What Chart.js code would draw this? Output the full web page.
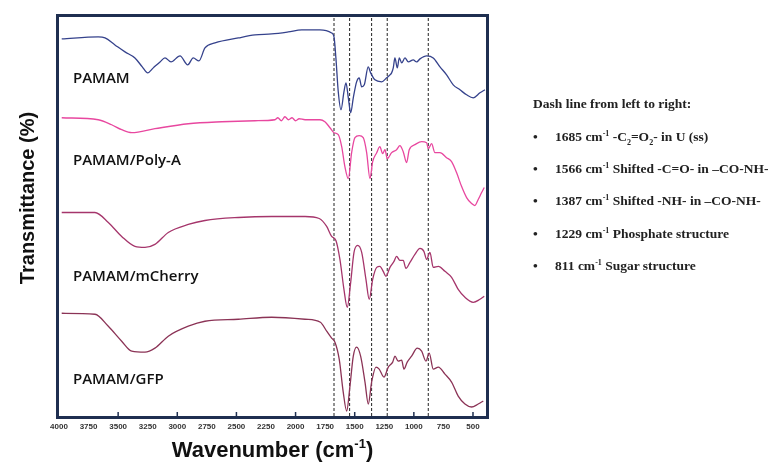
<!DOCTYPE html>
<html>
<head>
<meta charset="utf-8">
<script src="https://cdn.jsdelivr.net/npm/chart.js@4.4.0/dist/chart.umd.min.js"></script>
<style>
    html, body { margin: 0; padding: 0; background: #fff; }
    #wrap { position: relative; width: 769px; height: 463px; }
    .note { position: absolute; font-family: "Liberation Serif", "Times New Roman", serif; font-weight: bold; font-size: 13.5px; color: #222; white-space: nowrap; line-height: 16px; }
    .note sup, .note sub { font-size: 8px; line-height: 0; }
    .bullet { position: absolute; left: 533px; }
    .item { left: 555px; }
</style>
</head>
<body>
<div id="wrap">
    <canvas id="ftir" width="769" height="463"></canvas>
    <div class="note" style="left:533px; top:96px;">Dash line from left to right:</div>
    <div class="note bullet" style="top:129px;">•</div>
    <div class="note item" style="top:129px;">1685 cm<sup>-1</sup> -C<sub>2</sub>=O<sub>2</sub>- in U (ss)</div>
    <div class="note bullet" style="top:161px;">•</div>
    <div class="note item" style="top:161px;">1566 cm<sup>-1</sup> Shifted -C=O- in –CO-NH-</div>
    <div class="note bullet" style="top:193px;">•</div>
    <div class="note item" style="top:193px;">1387 cm<sup>-1</sup> Shifted -NH- in –CO-NH-</div>
    <div class="note bullet" style="top:226px;">•</div>
    <div class="note item" style="top:226px;">1229 cm<sup>-1</sup> Phosphate structure</div>
    <div class="note bullet" style="top:258px;">•</div>
    <div class="note item" style="top:258px;">811 cm<sup>-1</sup> Sugar structure</div>
</div>
<script>
// spectra (wavenumber, offset transmittance in arbitrary units)
var wnPamam = [3977, 3668, 3611, 3527, 3442, 3358, 3296, 3250, 3203, 3146, 3104, 3053, 2977, 2912, 2865, 2817, 2766, 2681, 2484, 2343, 2202, 2062, 1948, 1794,
    1695, 1675, 1659, 1639, 1616, 1591, 1574, 1554, 1534, 1512, 1484, 1462, 1441, 1419, 1386, 1365, 1329, 1272, 1230, 1202, 1188, 1174, 1160, 1140, 1123,
    1103, 1075, 1047, 1005, 976, 948, 892, 836, 779, 723, 667, 610, 554, 498, 441, 399];
var tPamam = [378, 380, 379, 372, 365, 359, 350, 344, 349, 355, 359, 355, 361, 352, 359, 356, 369, 374, 379, 382, 383, 385, 387, 387,
    384, 380, 359, 325, 307, 325, 334, 319, 304, 319, 335, 339, 330, 332, 350, 344, 337, 335, 339, 342, 344, 349, 359, 349, 359,
    354, 359, 355, 357, 355, 358, 361, 359, 350, 342, 332, 327, 322, 319, 324, 327];

var wnPolyA = [3977, 3668, 3555, 3470, 3385, 3189, 2907, 2625, 2343, 2174, 2150, 2120, 2090, 2060, 2030, 2000, 1970, 1920, 1794, 1752, 1709, 1675,
    1639, 1610, 1583, 1554, 1526, 1498, 1462, 1428, 1399, 1371, 1348, 1314, 1287, 1264, 1244, 1225, 1188, 1146, 1118, 1090, 1061, 1039, 991,
    934, 892, 878, 850, 822, 779, 723, 681, 639, 596, 554, 512, 484, 456, 427, 405];
var tPolyA = [299, 297, 292, 287, 284, 288, 293, 295, 296, 297, 299, 296, 300, 297, 299, 296, 298, 297, 297, 295, 289, 284,
    282, 270, 250, 238, 264, 279, 281, 279, 264, 238, 255, 264, 270, 263, 267, 258, 264, 267, 271, 265, 254, 267, 272,
    275, 274, 268, 273, 264, 264, 259, 255, 244, 230, 219, 213, 211, 217, 224, 229];

var wnCherry = [3977, 3696, 3583, 3470, 3358, 3273, 3189, 3076, 2907, 2766, 2484, 2202, 1920, 1800, 1737, 1695, 1659, 1625, 1591, 1563, 1534,
    1506, 1475, 1441, 1405, 1377, 1348, 1314, 1287, 1259, 1236, 1202, 1168, 1146, 1118, 1090, 1067, 1033, 991, 948, 915, 892, 864, 836,
    793, 737, 681, 625, 568, 498, 441, 405];
var tCherry = [204, 204, 194, 180, 170, 169, 172, 184, 192, 196, 199, 200, 200, 198, 190, 180, 176, 157, 127, 109, 134,
    164, 171, 164, 137, 117, 137, 149, 150, 145, 140, 149, 155, 160, 156, 156, 148, 154, 162, 168, 165, 157, 164, 149,
    150, 145, 139, 127, 119, 114, 117, 120];

var wnGfp = [3977, 3696, 3583, 3470, 3385, 3273, 3189, 3076, 2907, 2766, 2484, 2202, 1920, 1790, 1737, 1695, 1667, 1631, 1597, 1568, 1540,
    1512, 1484, 1450, 1413, 1385, 1357, 1320, 1293, 1253, 1216, 1179, 1160, 1132, 1103, 1084, 1056, 1019, 971, 934, 898, 870, 836,
    793, 737, 681, 625, 568, 512, 456, 413];
var tGfp = [103, 102, 90, 75, 65, 64, 68, 80, 90, 95, 97, 99, 97, 94, 85, 78, 74, 57, 24, 5, 30,
    60, 69, 60, 34, 12, 34, 49, 47, 39, 49, 54, 60, 55, 56, 47, 54, 60, 68, 65, 55, 63, 47,
    49, 42, 34, 20, 12, 9, 12, 15];

var curveNames = ["PAMAM", "PAMAM/Poly-A", "PAMAM/mCherry", "PAMAM/GFP"];
var curveColors = ["#35428c", "#e8479f", "#a5356b", "#8b3356"];
var labelWn = 3882;
var labelT = [338, 256, 140, 36];

var dashWn = [1675, 1543, 1357, 1225, 878];
var tickValues = [4000, 3750, 3500, 3250, 3000, 2750, 2500, 2250, 2000, 1750, 1500, 1250, 1000, 750, 500];
var majorTicks = [3500, 3000, 2500, 2000, 1500, 1000, 500];

function toPoints(xs, ys) {
    return xs.map(function (x, i) { return { x: x, y: ys[i] }; });
}

var series = [[wnPamam, tPamam], [wnPolyA, tPolyA], [wnCherry, tCherry], [wnGfp, tGfp]];
var datasets = [];
for (var i = 0; i < series.length; i++) {
    datasets.push({
        label: curveNames[i],
        data: toPoints(series[i][0], series[i][1]),
        borderColor: curveColors[i],
        borderWidth: 1.3,
        pointRadius: 0,
        cubicInterpolationMode: "monotone",
        fill: false
    });
}
// dashed marker lines, full height
dashWn.forEach(function (w) {
    datasets.push({
        label: "dash " + w,
        data: [{ x: w, y: 0 }, { x: w, y: 400 }],
        borderColor: "#222",
        borderWidth: 1,
        borderDash: [3, 2],
        pointRadius: 0,
        fill: false
    });
});

var decor = {
    id: "decor",
    afterDatasetsDraw: function (chart) {
        var ctx = chart.ctx, a = chart.chartArea;
        var xs = chart.scales.x, ys = chart.scales.y;
        ctx.save();
        ctx.strokeStyle = "#1f2f50";
        ctx.lineWidth = 1.5;
        majorTicks.forEach(function (v) {
            var px = xs.getPixelForValue(v);
            ctx.beginPath();
            ctx.moveTo(px, a.bottom);
            ctx.lineTo(px, a.bottom - 4);
            ctx.stroke();
        });
        ctx.lineWidth = 3;
        ctx.strokeRect(a.left - 1.5, a.top - 1.5, a.width + 3, a.height + 3);

        ctx.fillStyle = "#111";
        ctx.font = '600 15px "Open Sans"';
        ctx.textBaseline = "middle";
        ctx.textAlign = "left";
        for (var k = 0; k < curveNames.length; k++) {
            ctx.fillText(curveNames[k], xs.getPixelForValue(labelWn), ys.getPixelForValue(labelT[k]));
        }

        // x title with a small superscript
        var big = 'bold 22px "Liberation Sans"', small = 'bold 13px "Liberation Sans"';
        ctx.textBaseline = "alphabetic";
        ctx.font = big;
        var w1 = ctx.measureText("Wavenumber (cm").width, w3 = ctx.measureText(")").width;
        ctx.font = small;
        var w2 = ctx.measureText("-1").width;
        var x0 = (a.left + a.right) / 2 - (w1 + w2 + w3) / 2, yb = 457;
        ctx.font = big;
        ctx.fillText("Wavenumber (cm", x0, yb);
        ctx.font = small;
        ctx.fillText("-1", x0 + w1, yb - 9);
        ctx.font = big;
        ctx.fillText(")", x0 + w1 + w2, yb);

        ctx.font = 'bold 20px "Liberation Sans"';
        ctx.textAlign = "center";
        ctx.textBaseline = "middle";
        ctx.translate(28, 198);
        ctx.rotate(-Math.PI / 2);
        ctx.fillText("Transmittance (%)", 0, 0);
        ctx.restore();
    }
};

new Chart(document.getElementById("ftir"), {
    type: "line",
    data: { datasets: datasets },
    options: {
        responsive: false,
        animation: false,
        layout: { padding: { left: 59, top: 17, right: 283, bottom: 0 } },
        plugins: { legend: { display: false }, tooltip: { enabled: false } },
        scales: {
            x: {
                type: "linear",
                reverse: true,
                min: 390,
                max: 4000,
                afterFit: function (scale) { scale.height = 47; },
                afterBuildTicks: function (scale) {
                    scale.ticks = tickValues.map(function (v) { return { value: v }; });
                },
                grid: { display: false, drawTicks: false },
                border: { display: false },
                ticks: {
                    autoSkip: false,
                    maxRotation: 0,
                    padding: 6,
                    color: "#333",
                    font: { family: "Liberation Sans", size: 8, weight: "bold" },
                    callback: function (v) { return String(v); }
                },
                title: { display: false }
            },
            y: {
                display: false,
                min: 0,
                max: 400
            }
        }
    },
    plugins: [decor]
});
</script>
</body>
</html>
